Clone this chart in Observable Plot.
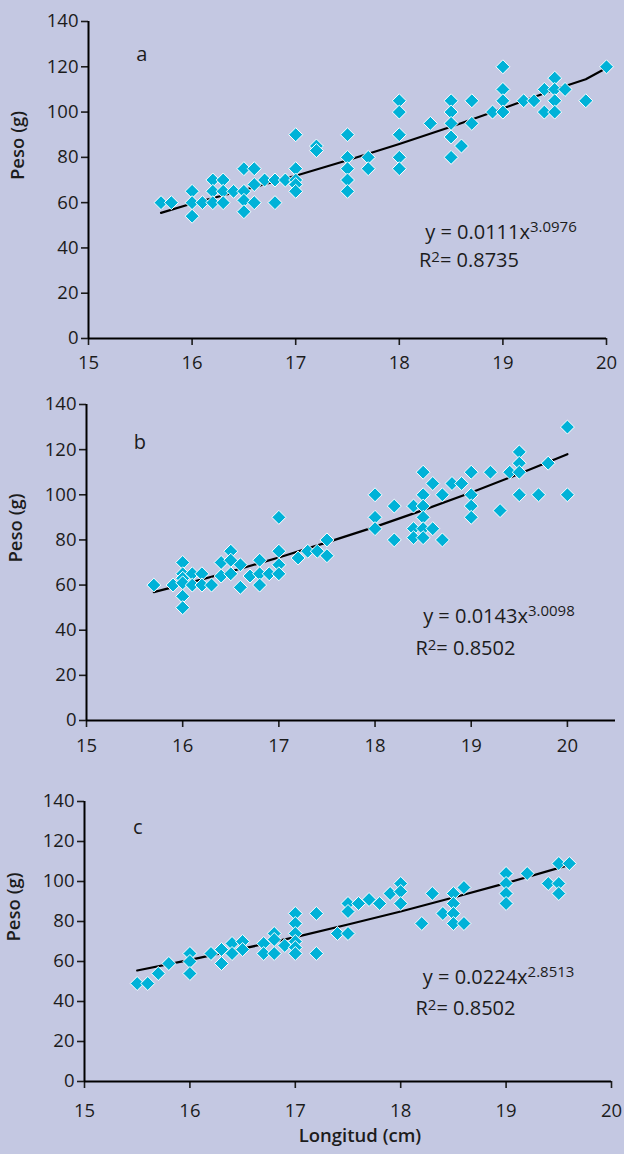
<!DOCTYPE html>
<html>
<head>
<meta charset="utf-8">
<script src="https://cdn.jsdelivr.net/npm/d3@7"></script>
<script src="https://cdn.jsdelivr.net/npm/@observablehq/plot@0.6"></script>
<style>
  html, body { margin: 0; padding: 0; background: #c4c8e2; }
  #wrap { position: relative; width: 624px; height: 1154px; background: #c4c8e2; overflow: hidden; }
  #wrap > svg { position: absolute; left: 0; }
</style>
</head>
<body>
<div id="wrap"></div>
<script>
// ---------- DATA ----------
const xTicks = [15, 16, 17, 18, 19, 20];
const yTicks = [0, 20, 40, 60, 80, 100, 120, 140];
const panelLetters = ["a", "b", "c"];
const equations = ["y = 0.0111x^{3.0976}", "y = 0.0143x^{3.0098}", "y = 0.0224x^{2.8513}"];
const r2Labels = ["R^{2}= 0.8735", "R^{2}= 0.8502", "R^{2}= 0.8502"];
const yTitle = "Peso (g)";
const xTitle = "Longitud (cm)";

// Panel a
const longA = [15.7,15.8,16.0,16.0,16.0,16.1,16.2,16.2,16.2,16.3,16.3,16.3,16.4,16.5,16.5,16.5,16.5,16.6,16.6,16.6,16.7,16.8,16.8,16.9,
  17.0,17.0,17.0,17.0,17.0,17.2,17.2,17.5,17.5,17.5,17.5,17.5,17.7,17.7,18.0,18.0,18.0,18.0,18.0,18.3,18.5,18.5,18.5,18.5,18.5,18.6,
  18.7,18.7,18.9,19.0,19.0,19.0,19.0,19.2,19.3,19.4,19.4,19.5,19.5,19.5,19.5,19.6,19.8,20.0];
const pesoA = [60,60,65,60,54,60,70,65,60,70,65,60,65,75,65,61,56,75,68,60,70,70,60,70,
  90,75,70,68,65,85,83,90,80,75,70,65,80,75,105,100,90,80,75,95,105,100,95,89,80,85,
  105,95,100,120,110,105,100,105,105,110,100,115,110,105,100,110,105,120];
const trendXA = [15.7,16,16.5,17,17.5,18,18.5,19,19.5,19.8,20];
const trendYA = [55.5,59.6,65.6,71.9,78.7,85.9,93.5,101.6,110,114.5,119.5];

// Panel b
const longB = [15.7,15.9,16.0,16.0,16.0,16.0,16.0,16.0,16.1,16.1,16.2,16.2,16.3,16.4,16.4,16.5,16.5,16.5,16.6,16.6,16.7,16.8,16.8,16.8,16.9,
  17.0,17.0,17.0,17.0,17.2,17.3,17.4,17.5,17.5,18.0,18.0,18.0,18.2,18.2,18.4,18.4,18.4,18.5,18.5,18.5,18.5,18.5,18.5,
  18.6,18.6,18.7,18.7,18.8,18.9,19.0,19.0,19.0,19.0,19.2,19.3,19.4,19.5,19.5,19.5,19.5,19.7,19.8,20.0,20.0];
const pesoB = [60,60,70,65,63,61,55,50,65,60,65,60,60,70,64,75,71,65,69,59,64,71,65,60,65,
  90,75,69,65,72,75,75,80,73,100,90,85,95,80,95,85,81,110,100,95,90,85,81,
  105,85,100,80,105,105,110,100,95,90,110,93,110,119,114,110,100,100,114,130,100];
const trendXB = [15.7,16,16.5,17,17.5,18,18.5,19,19.5,20];
const trendYB = [56.9,60.2,66,72.2,78.9,85.8,93.2,101,109.3,118];

// Panel c
const longC = [15.5,15.6,15.7,15.8,16.0,16.0,16.0,16.2,16.3,16.3,16.4,16.4,16.5,16.5,16.7,16.7,16.8,16.8,16.8,16.9,
  17.0,17.0,17.0,17.0,17.0,17.0,17.2,17.2,17.4,17.5,17.5,17.5,17.6,17.7,17.8,17.9,18.0,18.0,18.0,18.2,18.3,18.4,
  18.5,18.5,18.5,18.5,18.6,18.6,19.0,19.0,19.0,19.0,19.2,19.4,19.5,19.5,19.5,19.6];
const pesoC = [49,49,54,59,64,60,54,64,66,59,69,64,70,66,69,64,74,71,64,68,
  84,79,74,70,67,64,84,64,74,89,85,74,89,91,89,94,99,95,89,79,94,84,
  94,89,84,79,97,79,104,99,94,89,104,99,109,99,94,109];
const trendXC = [15.5,16,16.5,17,17.5,18,18.5,19,19.6];
const trendYC = [55.5,60.8,66.4,72.2,78.5,85,92,99.2,108.3];

// ---------- DRAW ----------
const FONT = "'Open Sans', 'Liberation Sans', Arial, sans-serif";
const DOT = "#00b2d8";
const wrap = document.getElementById("wrap");
const zip = (xs, ys) => xs.map((x, i) => ({x, y: ys[i]}));

function supify(svg) {
  const ns = "http://www.w3.org/2000/svg";
  svg.querySelectorAll("text").forEach(t => {
    const s = t.textContent;
    if (!s.includes("^{")) return;
    const parts = s.split(/\^\{([^}]*)\}/);
    const lift = s.startsWith("R") ? 5 : 7;
    t.textContent = "";
    parts.forEach((p, i) => {
      if (!p) return;
      const ts = document.createElementNS(ns, "tspan");
      ts.textContent = p;
      if (i % 2) { ts.setAttribute("font-size", 15); ts.setAttribute("dy", -lift); }
      else if (i > 0) ts.setAttribute("dy", lift);
      t.appendChild(ts);
    });
  });
}

function panel(cfg) {
  const svg = Plot.plot({
    width: 624,
    height: cfg.height,
    marginTop: 21,
    marginLeft: cfg.ml,
    marginRight: cfg.mr,
    marginBottom: cfg.mb,
    style: {background: "transparent", fontFamily: FONT, fontSize: "18px", color: "#1c1c1c", overflow: "visible"},
    x: {domain: [15, cfg.xmax], label: null},
    y: {domain: [0, 140], label: null},
    marks: [
      Plot.axisX({ticks: xTicks, tickSize: 7, tickPadding: cfg.tickPad, strokeWidth: 1.6, label: null, fontSize: 18.5, tickFormat: d => String(d)}),
      Plot.axisY({ticks: yTicks, tickSize: 7, tickPadding: 3, strokeWidth: 1.6, label: null, fontSize: 18.5, tickFormat: d => String(d)}),
      Plot.ruleX([15], {stroke: "black", strokeWidth: 2}),
      Plot.ruleY([0], {stroke: "black", strokeWidth: 2}),
      Plot.line(zip(cfg.tx, cfg.ty), {x: "x", y: "y", stroke: "black", strokeWidth: 2.2}),
      Plot.dot(zip(cfg.xs, cfg.ys), {x: "x", y: "y", symbol: "diamond2", r: 6.3, fill: DOT, stroke: "white", strokeWidth: 1}),
      Plot.text([cfg.letter], {x: cfg.letterPos[0], y: cfg.letterPos[1], text: d => d, textAnchor: "start", fontSize: 20}),
      Plot.text([cfg.eq], {x: cfg.eqPos[0], y: cfg.eqPos[1], text: d => d, textAnchor: "start", fontSize: 20}),
      Plot.text([cfg.r2], {x: cfg.r2Pos[0], y: cfg.r2Pos[1], text: d => d, textAnchor: "start", fontSize: 20}),
      Plot.text([yTitle], {frameAnchor: "left", dx: -70, rotate: -90, text: d => d, fontWeight: 600, fontSize: 18.5}),
      cfg.xTitle ? Plot.text([cfg.xTitle], {frameAnchor: "bottom", dy: 60, dx: 12, text: d => d, fontWeight: 600, fontSize: 18.5}) : null
    ]
  });
  supify(svg);
  svg.style.top = cfg.top + "px";
  wrap.appendChild(svg);
}

panel({top: 0, height: 380, mb: 42, ml: 88, mr: 18, xmax: 20, tickPad: 10,
  xs: longA, ys: pesoA, tx: trendXA, ty: trendYA,
  letter: panelLetters[0], letterPos: [15.46, 125.4],
  eq: equations[0], eqPos: [18.25, 46.8], r2: r2Labels[0], r2Pos: [18.19, 34.2]});

panel({top: 383, height: 380, mb: 43, ml: 86, mr: 9, xmax: 20.5, tickPad: 11,
  xs: longB, ys: pesoB, tx: trendXB, ty: trendYB,
  letter: panelLetters[1], letterPos: [15.49, 123.2],
  eq: equations[1], eqPos: [18.50, 46.0], r2: r2Labels[1], r2Pos: [18.42, 32.0]});

panel({top: 780, height: 374, mb: 73, ml: 84, mr: 13, xmax: 20, tickPad: 15,
  xs: longC, ys: pesoC, tx: trendXC, ty: trendYC,
  letter: panelLetters[2], letterPos: [15.46, 127],
  eq: equations[2], eqPos: [18.21, 51.8], r2: r2Labels[2], r2Pos: [18.14, 36.7],
  xTitle: xTitle});
</script>
</body>
</html>
